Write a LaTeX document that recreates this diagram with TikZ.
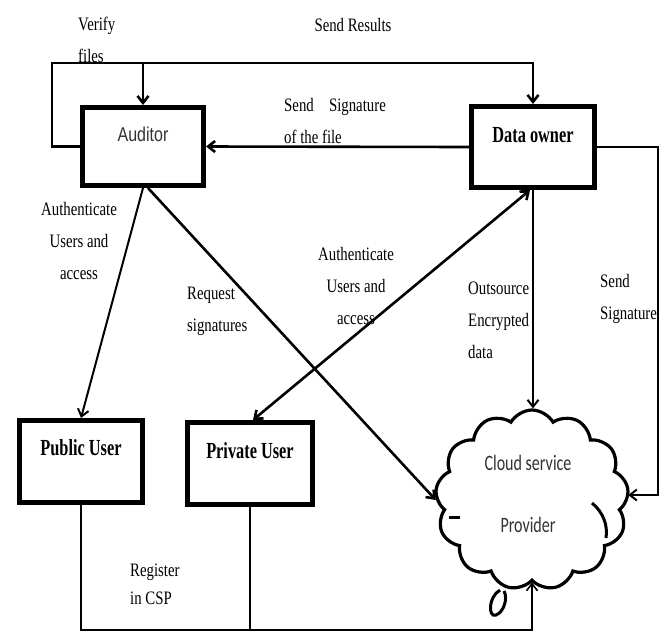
\documentclass[tikz,border=0pt]{standalone}
\usepackage{fontspec}
\setmainfont{Liberation Serif}
\newfontfamily\rmlab[FakeStretch=0.78]{Liberation Serif}
\newfontfamily\bflab[FakeStretch=0.71]{Liberation Serif}
\newfontfamily\sflab[FakeStretch=0.8]{Liberation Sans}
\newfontfamily\cloudlab[FakeStretch=0.73]{Carlito}
\usetikzlibrary{arrows.meta,shapes.symbols}
\begin{document}
\begin{tikzpicture}[x=1pt,y=-1pt,
  box/.style={draw,line width=5pt,inner sep=0pt,
    font=\bflab\bfseries\fontsize{23}{26}\selectfont,
    text height=14pt,text depth=24pt},
  lab/.style={font=\rmlab\fontsize{19}{32}\selectfont,inner sep=0pt},
  conn/.style={line width=2.6pt},
  thinc/.style={line width=2pt},
  reg/.style={line width=1.6pt},
  tip/.style={-{Straight Barb[length=7pt,width=11pt]}},
  dtip/.style={{Straight Barb[length=7pt,width=11pt]}-{Straight Barb[length=7pt,width=11pt]}}
]
\useasboundingbox[fill=white] (0,0) rectangle (666,633);

% boxes
\node[box,minimum width=121pt,minimum height=78pt,
  font=\sflab\fontsize{20}{22}\selectfont,text=black!80,
  text height=13pt,text depth=23pt] (auditor) at (143,146.5) {Auditor};
\node[box,minimum width=123pt,minimum height=81pt] (owner) at (533,147) {Data owner};
\node[box,minimum width=123pt,minimum height=82pt,text depth=26pt] (public) at (81,461.5) {Public User};
\node[box,minimum width=125pt,minimum height=82pt] (private) at (250,463.5) {Private User};

% cloud
\node[cloud,draw,line width=3.2pt,cloud puffs=13,cloud puff arc=120,
  minimum width=193pt,minimum height=180pt,inner sep=0pt,aspect=1.07] (cloud) at (532,500) {};
\node[font=\cloudlab\fontsize{22}{62}\selectfont,text=black!80,align=center,inner sep=0pt]
  (csp) at (528,494) {Cloud service\\Provider};
\draw[line width=3pt] (592,503) .. controls (603,512) and (608,525) .. (606,538);
\draw[line width=3pt] (449,517) -- (460,517);
\draw[line width=3pt] (500,590) .. controls (488,597) and (488,618) .. (496,615)
  .. controls (504,612) and (508,598) .. (504,591);

% connectors
\coordinate (tl) at (52,63);
\draw[conn,tip] (auditor.west) -| (tl) -| (owner.north);
\draw[conn,tip] (auditor.north |- tl) -- (auditor.north);
\draw[conn,tip] (owner.west) -- (auditor.east);
\coordinate (rc) at (658,495);
\draw[thinc,tip] (owner.east) -| (rc) -- (rc -| cloud.east);
\draw[thinc,tip] (owner.south) -- (owner.south |- cloud.north);
\draw[thinc,tip] (auditor.south) -- (public.north);
\draw[conn,tip] ([xshift=5pt]auditor.south) -- (cloud.west);
\draw[conn,dtip] ([xshift=3pt]private.north) -- ([xshift=-3pt]owner.south);
\coordinate (bot) at (81,630);
\draw[reg,tip] (public.south) -- (bot) -| (cloud.south);
\draw[reg] (private.south) -- (private.south |- bot);

% labels
\node[lab,align=left,anchor=west] (verify) at (78,40) {Verify\\files};
\node[lab] (results) at (353,25) {Send Results};
\node[lab,align=left,anchor=west] (sendsig) at (284,121) {Send\hspace{0.8em}Signature\\of the file};
\node[lab,align=center] (auth1) at (79,241) {Authenticate\\Users and\\access};
\node[lab,align=left,anchor=west] (req) at (187,311.5) {Request\\signatures};
\node[lab,align=center] (auth2) at (356,285.5) {Authenticate\\Users and\\access};
\node[lab,align=left,anchor=west] (outs) at (468,320.5) {Outsource\\Encrypted\\data};
\node[lab,align=left,anchor=west] (sendsig2) at (600,298.5) {Send\\Signature};
\node[lab,align=left,anchor=west,font=\rmlab\fontsize{19}{28}\selectfont] (reg) at (130,584) {Register\\in CSP};
\end{tikzpicture}
\end{document}
